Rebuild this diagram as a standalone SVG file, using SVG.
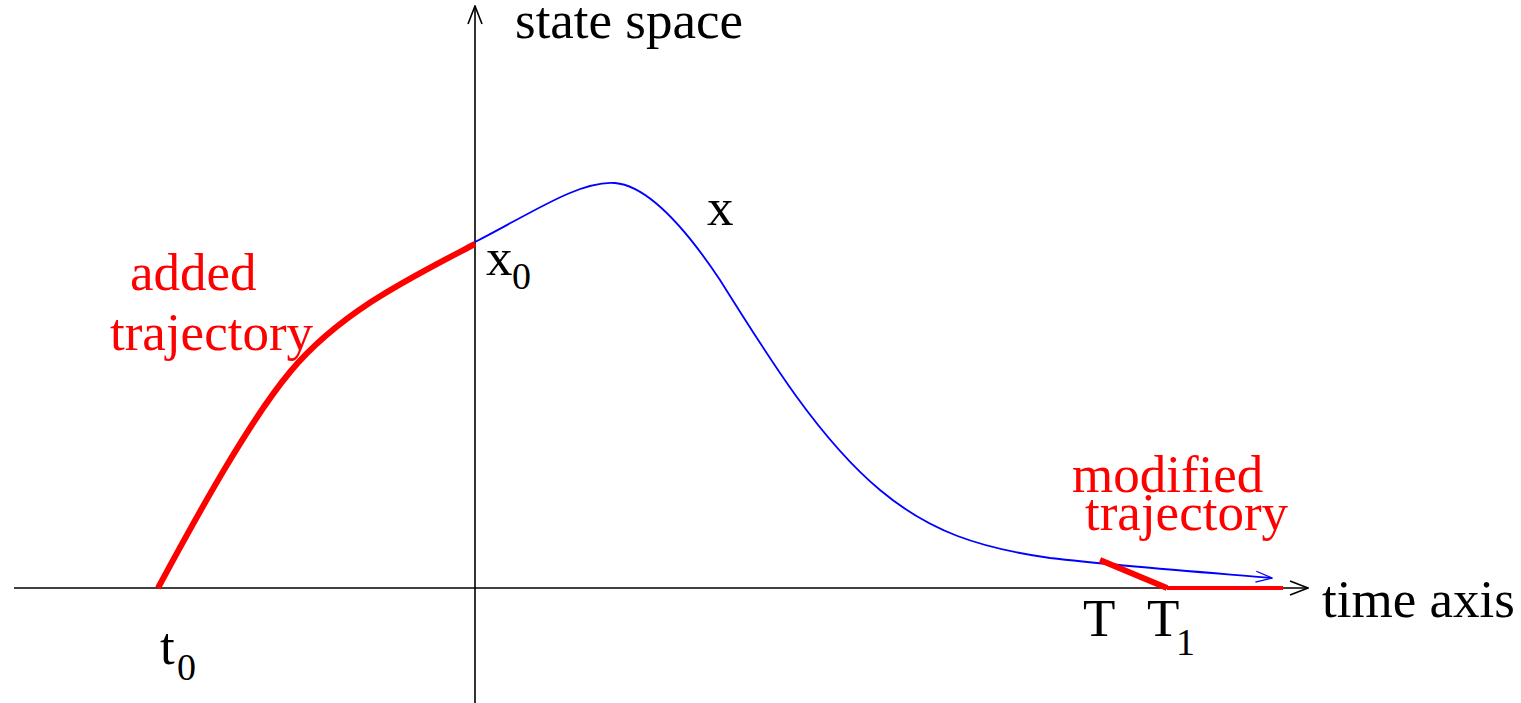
<svg xmlns="http://www.w3.org/2000/svg" width="1521" height="703" viewBox="0 0 1521 703">
<style>
text{font-family:"Liberation Serif","Times New Roman",serif;font-size:53px;fill:#000}
.r{fill:#ff0000}
.sub{font-size:38px}
.ax{stroke:#000;stroke-width:1.6;fill:none}
.red{stroke:#ff0000;stroke-width:6;fill:none;stroke-linecap:butt}
</style>
<defs>
<marker id="open" viewBox="0 0 20 20" refX="19" refY="10" markerWidth="20" markerHeight="20" markerUnits="userSpaceOnUse" orient="auto">
<path d="M1,3 L19,10 L1,17" fill="none" stroke="#000" stroke-width="1.6"/>
</marker>
<marker id="openb" viewBox="0 0 20 20" refX="19" refY="10" markerWidth="18" markerHeight="18" markerUnits="userSpaceOnUse" orient="auto">
<path d="M1,4 L19,10 L1,16" fill="none" stroke="#0000ff" stroke-width="1.4"/>
</marker>
</defs>
<g id="connectors">
<line class="ax" x1="14" y1="588" x2="1308" y2="588" marker-end="url(#open)"/>
<line class="ax" x1="475" y1="703" x2="475" y2="6" marker-end="url(#open)"/>
<path d="M475,242 C530,214 580,180 615,183 C650,186 690,235 720,280 C770,360 820,440 880,490 C930,532 980,548 1050,558 C1120,566 1200,572 1272,578" fill="none" stroke="#0000ff" stroke-width="1.8" marker-end="url(#openb)"/>
<path class="red" d="M158,588 C200,510 250,420 290,372 C340,312 410,278 475,244"/>
<path class="red" d="M1100,560 L1167,588"/>
<line x1="1167" y1="588" x2="1283" y2="588" stroke="#ff0000" stroke-width="4"/>
</g>
<g id="labels">
<text x="515" y="38">state space</text>
<text x="707" y="225">x</text>
<text x="486" y="275">x</text><text class="sub" x="512" y="289">0</text>
<text class="r" x="130" y="290">added</text>
<text class="r" x="110" y="350">trajectory</text>
<text class="r" x="1072" y="492">modified</text>
<text class="r" x="1085" y="530">trajectory</text>
<text x="1322" y="617">time axis</text>
<text x="160" y="664">t</text><text class="sub" x="177" y="680">0</text>
<text x="1083" y="636">T</text>
<text x="1147" y="636">T</text><text class="sub" x="1176" y="655">1</text>
</g>
</svg>
